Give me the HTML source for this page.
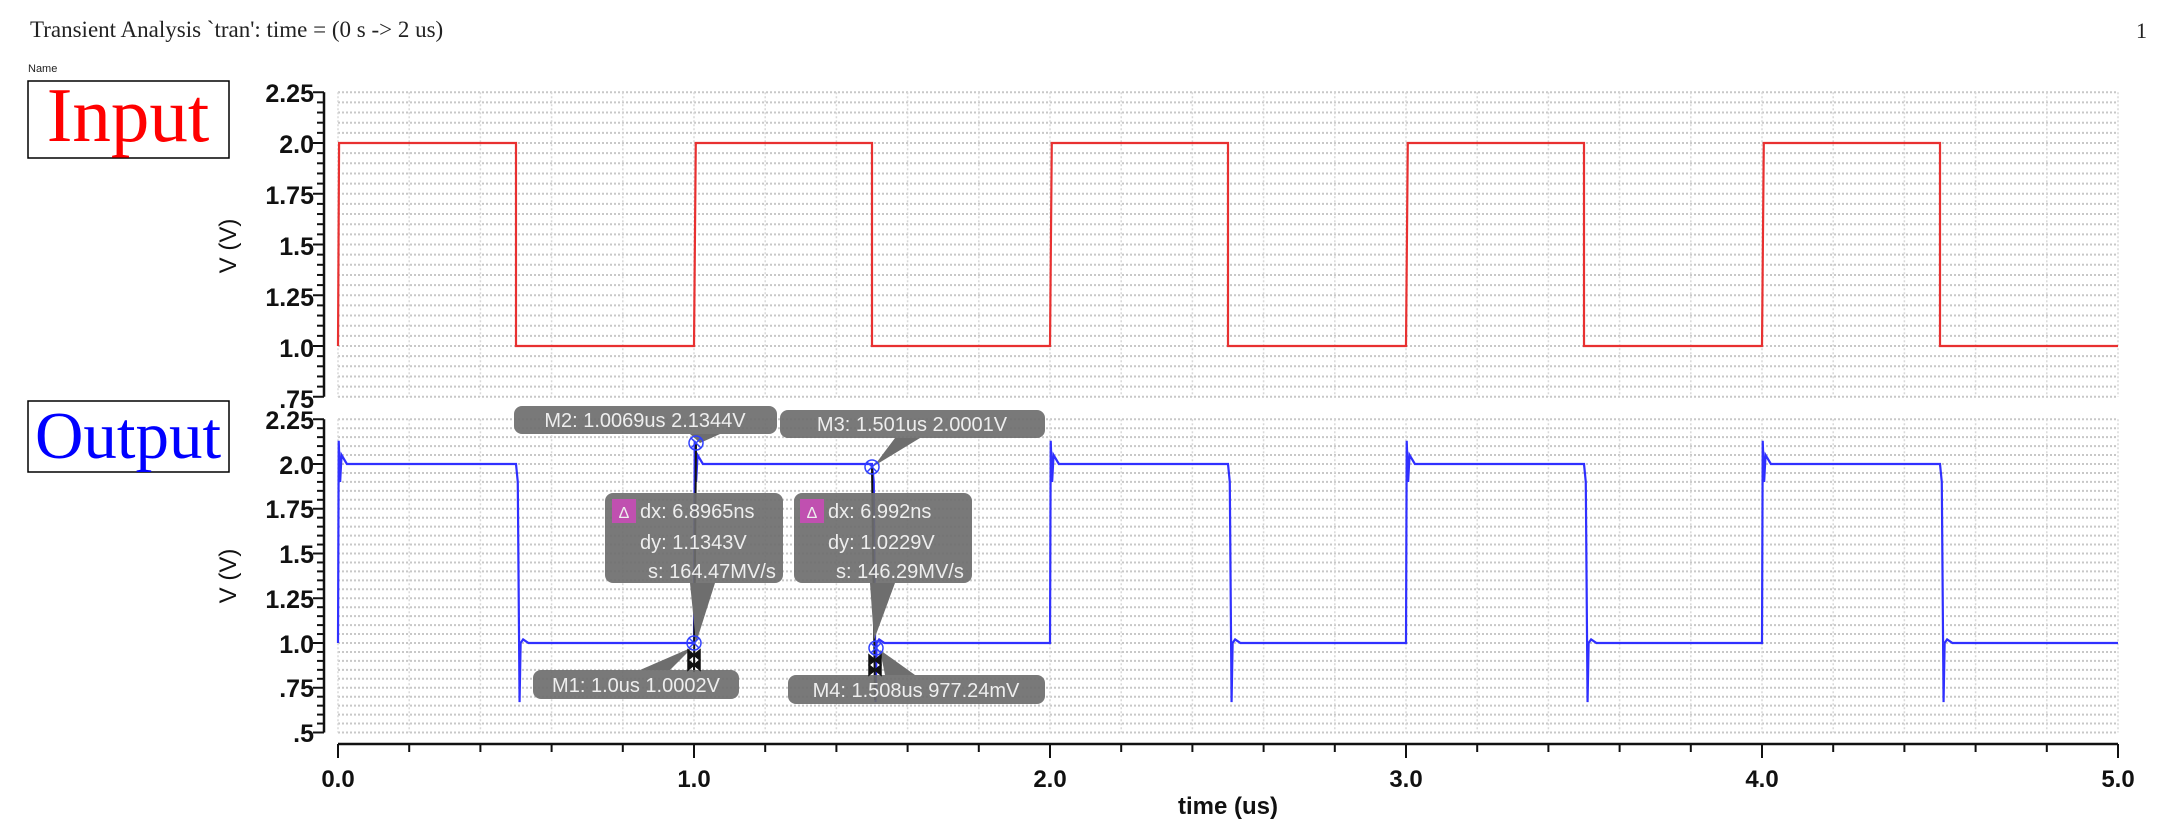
<!DOCTYPE html>
<html><head><meta charset="utf-8"><style>
html,body{margin:0;padding:0;background:#fff;}
svg{display:block;}
</style></head><body>
<svg id="s" width="2176" height="834" viewBox="0 0 2176 834" xmlns="http://www.w3.org/2000/svg">
<rect width="2176" height="834" fill="#fff"/>
<g id="grid"></g>
<g id="axes" stroke="#111" stroke-width="2.5" fill="none"></g>
<g id="series"></g>
<text x="30" y="37" font-family="Liberation Serif, serif" font-size="23" fill="#222">Transient Analysis `tran': time = (0 s -&gt; 2 us)</text>
<text x="2136" y="38" font-family="Liberation Serif, serif" font-size="22" fill="#222">1</text>
<text x="28" y="72" font-family="Liberation Sans, sans-serif" font-size="11" fill="#222">Name</text>
<rect x="28" y="81" width="201" height="77" fill="#fff" stroke="#000" stroke-width="1.5"/>
<text x="128" y="141" text-anchor="middle" font-family="Liberation Serif, serif" font-size="77" fill="#f00">Input</text>
<rect x="28" y="401" width="201" height="71" fill="#fff" stroke="#000" stroke-width="1.5"/>
<text x="128" y="458" text-anchor="middle" font-family="Liberation Serif, serif" font-size="67" fill="#00f">Output</text>
<g font-family="Liberation Sans, sans-serif" font-size="25" font-weight="bold" fill="#111" text-anchor="end">
<text x="314" y="102">2.25</text><text x="314" y="153">2.0</text><text x="314" y="204">1.75</text><text x="314" y="255">1.5</text><text x="314" y="306">1.25</text><text x="314" y="357">1.0</text><text x="314" y="408">.75</text>
<text x="314" y="429">2.25</text><text x="314" y="474">2.0</text><text x="314" y="518">1.75</text><text x="314" y="563">1.5</text><text x="314" y="608">1.25</text><text x="314" y="653">1.0</text><text x="314" y="697">.75</text><text x="314" y="742">.5</text>
</g>
<g font-family="Liberation Sans, sans-serif" font-size="24" font-weight="bold" fill="#111" text-anchor="middle">
<text x="338" y="787">0.0</text><text x="694" y="787">1.0</text><text x="1050" y="787">2.0</text><text x="1406" y="787">3.0</text><text x="1762" y="787">4.0</text><text x="2118" y="787">5.0</text>
<text x="1228" y="814">time (us)</text>
</g>
<text transform="translate(236,246) rotate(-90)" text-anchor="middle" font-family="Liberation Sans, sans-serif" font-size="24" fill="#111">V (V)</text>
<text transform="translate(236,576) rotate(-90)" text-anchor="middle" font-family="Liberation Sans, sans-serif" font-size="24" fill="#111">V (V)</text>
<g id="markers"></g>
<g font-family="Liberation Sans, sans-serif" font-size="20" fill="#eee">
<rect x="514" y="406" width="263" height="28" rx="8" fill="#6e6e6e" opacity="0.92"/>
<text x="645" y="427" text-anchor="middle">M2: 1.0069us 2.1344V</text>
<rect x="780" y="410" width="265" height="28" rx="8" fill="#6e6e6e" opacity="0.92"/>
<text x="912" y="431" text-anchor="middle">M3: 1.501us 2.0001V</text>
<rect x="605" y="493" width="178" height="90" rx="8" fill="#6e6e6e" opacity="0.92"/>
<rect x="612" y="499" width="24" height="24" fill="#c050b0"/><text x="624" y="518" text-anchor="middle" font-size="16">Δ</text>
<text x="640" y="518">dx: 6.8965ns</text><text x="640" y="549">dy: 1.1343V</text><text x="648" y="578">s: 164.47MV/s</text>
<rect x="794" y="493" width="178" height="90" rx="8" fill="#6e6e6e" opacity="0.92"/>
<rect x="800" y="499" width="24" height="24" fill="#c050b0"/><text x="812" y="518" text-anchor="middle" font-size="16">Δ</text>
<text x="828" y="518">dx: 6.992ns</text><text x="828" y="549">dy: 1.0229V</text><text x="836" y="578">s: 146.29MV/s</text>
<rect x="533" y="670" width="206" height="29" rx="8" fill="#6e6e6e" opacity="0.92"/>
<text x="636" y="692" text-anchor="middle">M1: 1.0us 1.0002V</text>
<rect x="788" y="675" width="257" height="29" rx="8" fill="#6e6e6e" opacity="0.92"/>
<text x="916" y="697" text-anchor="middle">M4: 1.508us 977.24mV</text>
</g>
<g id="mk2" stroke="#3040ff" stroke-width="1.5" fill="none"></g>
<script>
(function(){
var NS="http://www.w3.org/2000/svg";
function el(p,t,a){var e=document.createElementNS(NS,t);for(var k in a)e.setAttribute(k,a[k]);document.getElementById(p).appendChild(e);return e;}
var X0=338,XS=356;function X(t){return X0+XS*t;}
function YT(v){return 143+(2-v)*203;}
function YB(v){return 464+(2-v)*179;}
function grid(Y,vmin,vmax){
 for(var v=vmin;v<=vmax+1e-6;v+=0.05){var y=Y(v);el("grid","line",{x1:X0,x2:X(5),y1:y,y2:y,stroke:"#c8c8c8","stroke-width":2,"stroke-dasharray":"2,2"});}
 for(var t=0;t<=5.0001;t+=0.2){var x=X(t);el("grid","line",{x1:x,x2:x,y1:Y(vmax),y2:Y(vmin),stroke:"#d8d8d8","stroke-width":1.5,"stroke-dasharray":"2,2"});}
}
grid(YT,0.75,2.25);grid(YB,0.5,2.25);
function yaxis(Y,vmin,vmax){
 var ax=324;el("axes","line",{x1:ax,x2:ax,y1:Y(vmax),y2:Y(vmin)});
 for(var v=vmin;v<=vmax+1e-6;v+=0.05){var maj=Math.abs(v*4-Math.round(v*4))<1e-6;el("axes","line",{x1:maj?313:317,x2:ax,y1:Y(v),y2:Y(v),"stroke-width":2});}
}
yaxis(YT,0.75,2.25);yaxis(YB,0.5,2.25);
el("axes","line",{x1:X0,x2:X(5),y1:744,y2:744});
for(var t=0;t<=5.0001;t+=0.2){var maj=Math.abs(t-Math.round(t))<1e-6;el("axes","line",{x1:X(t),x2:X(t),y1:744,y2:maj?758:752,"stroke-width":2});}
var d="M"+X(0)+","+YT(1)+" L"+X(0.003)+","+YT(2);
for(var i=0;i<5;i++){d+=" L"+X(i+0.5)+","+YT(2)+" L"+X(i+0.5)+","+YT(1)+" L"+X(i+1)+","+YT(1);if(i<4)d+=" L"+X(i+1.005)+","+YT(2);}
el("series","path",{d:d,stroke:"#e83030","stroke-width":2.2,fill:"none"});
var o="M"+X(0)+","+YB(1);
for(var i=0;i<5;i++){
 o+=" L"+X(i+0.002)+","+YB(2.13)+" L"+X(i+0.006)+","+YB(1.9)+" L"+X(i+0.01)+","+YB(2.05)+" L"+X(i+0.025)+","+YB(2)+" L"+X(i+0.5)+","+YB(2)+" L"+X(i+0.505)+","+YB(1.9)+" L"+X(i+0.51)+","+YB(0.67)+" L"+X(i+0.513)+","+YB(1.0)+" L"+X(i+0.52)+","+YB(1.02)+" L"+X(i+0.535)+","+YB(1.0)+" L"+X(i+1)+","+YB(1);
}
el("series","path",{d:o,stroke:"#3030ff","stroke-width":2.2,fill:"none"});
el("series","line",{x1:696,x2:694,y1:443,y2:672,stroke:"#111","stroke-width":2});
el("series","line",{x1:872,x2:875,y1:467,y2:700,stroke:"#111","stroke-width":2});
el("markers","polygon",{points:"690,434 720,434 700,443",fill:"#6e6e6e"});
el("markers","polygon",{points:"895,438 920,438 874,466",fill:"#6e6e6e"});
el("markers","polygon",{points:"690,583 715,583 696,643",fill:"#6e6e6e"});
el("markers","polygon",{points:"870,583 895,583 874,640",fill:"#6e6e6e"});
el("markers","polygon",{points:"640,670 670,670 693,647",fill:"#6e6e6e"});
el("markers","polygon",{points:"885,675 915,675 880,650",fill:"#6e6e6e"});
[[696,443],[872,467],[694,643],[876,648]].forEach(function(p){el("mk2","circle",{cx:p[0],cy:p[1],r:7});el("mk2","line",{x1:p[0]-5,x2:p[0]+5,y1:p[1]-5,y2:p[1]+5});el("mk2","line",{x1:p[0]-5,x2:p[0]+5,y1:p[1]+5,y2:p[1]-5});});
el("mk2","path",{d:"M688,650 L700,660 L688,670 Z M700,650 L688,660 L700,670Z",fill:"#111",stroke:"#111"});
el("mk2","path",{d:"M869,655 L881,665 L869,675 Z M881,655 L869,665 L881,675Z",fill:"#111",stroke:"#111"});
})();
</script>
</svg>
</body></html>
